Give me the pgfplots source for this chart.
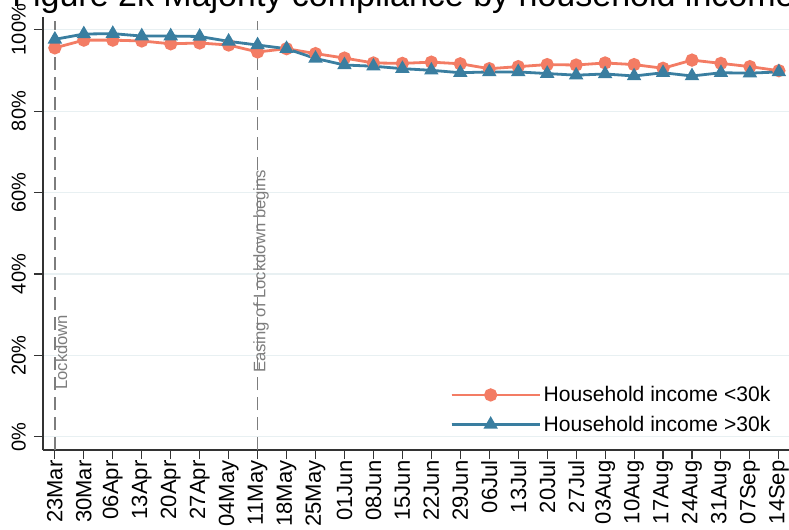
\documentclass[border=0pt]{standalone}
\usepackage{pgfplots}
\pgfplotsset{compat=1.18}
\usepackage{fontspec}
\setmainfont{Liberation Sans}
\definecolor{corange}{RGB}{243,124,100}
\definecolor{cblue}{RGB}{58,126,160}
\definecolor{gridc}{RGB}{232,240,242}
\definecolor{vgray}{RGB}{125,125,125}
\pgfplotstableread{
x low high
0 95.5 97.6
1 97.4 98.9
2 97.4 99.0
3 97.2 98.4
4 96.5 98.4
5 96.7 98.3
6 96.2 97.1
7 94.5 96.2
8 95.3 95.3
9 94.1 92.9
10 93.0 91.3
11 91.8 91.0
12 91.7 90.4
13 92.0 90.0
14 91.6 89.4
15 90.4 89.6
16 90.9 89.6
17 91.4 89.2
18 91.3 88.8
19 91.8 89.1
20 91.4 88.6
21 90.5 89.4
22 92.5 88.6
23 91.7 89.4
24 90.9 89.3
25 89.9 89.6
}\datatable
\begin{document}
\begin{tikzpicture}
\begin{axis}[
  scale only axis,
  width=559.5pt, height=324.5pt,
  xmin=-0.41, xmax=25.35, ymin=-3.2, ymax=103,
  axis lines*=left,
  axis line style={black!80, line width=0.8pt},
  tick align=outside,
  major tick length=6.75pt,
  tick style={black!80, line width=0.8pt},
  xtick={0,...,25},
  xticklabels={23Mar,30Mar,06Apr,13Apr,20Apr,27Apr,04May,11May,18May,25May,01Jun,08Jun,15Jun,22Jun,29Jun,06Jul,13Jul,20Jul,27Jul,03Aug,10Aug,17Aug,24Aug,31Aug,07Sep,14Sep},
  xticklabel style={rotate=90, anchor=east, font=\fontsize{16.5}{18}\selectfont, inner sep=1pt},
  ytick={0,20,40,60,80,100},
  yticklabels={0\%,20\%,40\%,60\%,80\%,100\%},
  yticklabel style={rotate=90, anchor=south, font=\fontsize{15}{17}\selectfont, inner sep=6pt},
  ymajorgrids,
  grid style={gridc, line width=0.8pt},
  legend style={draw=none, fill=none, at={(0.5456,0.154)}, anchor=north west,
    font=\fontsize{15.8}{18}\selectfont, row sep=5.25pt, inner sep=0pt},
  legend cell align=left,
  legend image code/.code={\path (0pt,0pt) -- (66pt,0pt); \draw[mark repeat=2, mark phase=2, #1] plot coordinates {(0pt,0pt) (29.25pt,0pt) (58.5pt,0pt)};},
  clip=false,
]
\coordinate (O) at (rel axis cs:0,0);
\addplot[vgray, line width=1.3pt, dash pattern=on 10pt off 5pt, forget plot] coordinates {(0,-3.2) (0,102.1)};
\addplot[vgray, line width=1.3pt, dash pattern=on 10pt off 5pt, forget plot] coordinates {(7,-3.2) (7,102.1)};
\node[rotate=90, anchor=north west, inner sep=0pt, text=vgray, font=\fontsize{12.5}{14}\selectfont] at (axis cs:0,11.5) {Lockdown};
\node[rotate=90, anchor=north west, inner sep=0pt, text=vgray, font=\fontsize{12.5}{14}\selectfont] at (axis cs:6.84,15.7) {Easing of Lockdown begins};
\addplot[corange, line width=2.1pt, mark=*, mark size=3.9pt, mark options={solid, fill=corange, draw=corange}] table[x=x, y=low] {\datatable};
\addlegendentry{Household income <30k}
\addplot[cblue, line width=2.1pt, mark=triangle*, mark size=4.2pt, mark options={solid, fill=cblue, draw=cblue}] table[x=x, y=high] {\datatable};
\addlegendentry{Household income >30k}
\end{axis}
\node[anchor=base, font=\fontsize{25.5}{30}\selectfont] at ([shift={(270.4pt,332.25pt)}]O) {Figure 2k Majority compliance by household income};
\pgfresetboundingbox
\path[use as bounding box] ([shift={(-32.25pt,-59.25pt)}]O) rectangle ([shift={(559.5pt,337.5pt)}]O);
\end{tikzpicture}
\end{document}
